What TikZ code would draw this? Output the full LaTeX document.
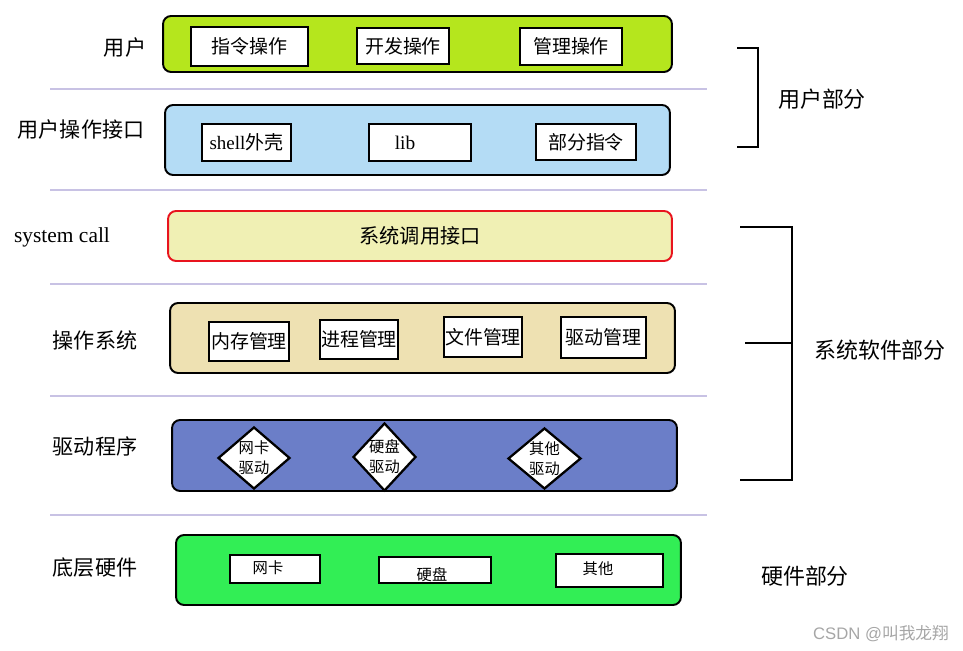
\documentclass[tikz,border=0pt]{standalone}
\usepackage{fontspec}
\setmainfont{Liberation Serif}
\newfontfamily\cjk{Noto Sans CJK SC}
\usetikzlibrary{shapes.geometric}
\definecolor{limegrn}{RGB}{181,230,29}
\definecolor{skyblu}{RGB}{180,220,245}
\definecolor{paleyel}{RGB}{240,240,180}
\definecolor{tanbox}{RGB}{238,225,178}
\definecolor{drvblu}{RGB}{107,126,200}
\definecolor{hwgrn}{RGB}{50,238,85}
\definecolor{sepline}{RGB}{200,194,228}
\definecolor{redline}{RGB}{232,20,30}

\begin{document}
\begin{tikzpicture}[x=0.02cm,y=-0.02cm,
  every node/.style={font=\cjk},
  layer/.style={draw,line width=1.1pt,rounded corners=0.16cm,inner sep=0},
  item/.style={draw,line width=1.1pt,fill=white,inner sep=0,font=\cjk\fontsize{10.8}{12}\selectfont},
  hwitem/.style={draw,line width=1.1pt,fill=white,inner sep=0},
  drv/.style={diamond,draw,line width=1.3pt,fill=white,inner sep=0},
  side/.style={font=\cjk\fontsize{12}{14}\selectfont},
  part/.style={font=\cjk\fontsize{12.5}{14}\selectfont},
  sep/.style={draw=sepline,line width=1.2pt},
  brk/.style={draw,line width=1.1pt}]
\useasboundingbox (0,0) rectangle (963,651);

\node[side] (user) at (125,48) {用户};
\node[side] (uif) at (81,130) {用户操作接口};
\node[side,font=\rmfamily\fontsize{12.2}{14}\selectfont] (sc) at (62,237) {system call};
\node[side] (os) at (95,340) {操作系统};
\node[side] (drvs) at (95,446) {驱动程序};
\node[side] (hw) at (95,568) {底层硬件};

\node[layer,fill=limegrn,minimum width=10.18cm,minimum height=1.12cm] (L1) at (417.5,44) {};
\node[item,minimum width=2.34cm,minimum height=0.78cm] (cmdop) at (249.5,46.5) {指令操作};
\node[item,minimum width=1.84cm,minimum height=0.72cm] (devop) at (403,46) {开发操作};
\node[item,minimum width=2.04cm,minimum height=0.74cm] (mgmtop) at (571,46.5) {管理操作};

\node[layer,fill=skyblu,minimum width=10.1cm,minimum height=1.4cm] (L2) at (417.5,140) {};
\node[item,minimum width=1.78cm,minimum height=0.74cm] (shell) at (246.5,142.5) {{\rmfamily shell}外壳};
\node[item,minimum width=2.04cm,minimum height=0.74cm,font=\rmfamily\fontsize{11}{12}\selectfont] (lib) at (420,142.5) {\hspace*{-0.6cm}lib};
\node[item,minimum width=2.0cm,minimum height=0.72cm] (partcmd) at (586,142) {部分指令};

\node[layer,fill=paleyel,draw=redline,minimum width=10.08cm,minimum height=1.0cm,font=\cjk\fontsize{11.5}{13}\selectfont] (L3) at (420,236) {系统调用接口};

\node[layer,fill=tanbox,minimum width=10.1cm,minimum height=1.4cm] (L4) at (422.5,338) {};
\node[item,minimum width=1.6cm,minimum height=0.78cm] (mem) at (249,341.5) {内存管理};
\node[item,minimum width=1.56cm,minimum height=0.78cm] (proc) at (359,339.5) {进程管理};
\node[item,minimum width=1.56cm,minimum height=0.8cm] (file) at (483,337) {文件管理};
\node[item,minimum width=1.7cm,minimum height=0.82cm] (dmgr) at (603.5,337.5) {驱动管理};

\node[layer,fill=drvblu,minimum width=10.1cm,minimum height=1.42cm] (L5) at (424.5,455.5) {};
\node[drv,minimum width=1.44cm,minimum height=1.24cm] (nicdrv) at (254,458) {};
\node[drv,minimum width=1.26cm,minimum height=1.36cm] (diskdrv) at (384.5,457) {};
\node[drv,minimum width=1.46cm,minimum height=1.22cm] (othdrv) at (544.5,458.5) {};
\node[align=center,font=\cjk\fontsize{8.7}{11.5}\selectfont] (nicdrvt) at (nicdrv) {网卡\\驱动};
\node[align=center,font=\cjk\fontsize{8.7}{11.5}\selectfont] (diskdrvt) at (diskdrv) {硬盘\\驱动};
\node[align=center,font=\cjk\fontsize{8.7}{11.5}\selectfont] (othdrvt) at (othdrv) {其他\\驱动};

\node[layer,fill=hwgrn,minimum width=10.1cm,minimum height=1.4cm] (L6) at (428.5,570) {};
\node[hwitem,minimum width=1.8cm,minimum height=0.56cm] (nic) at (275,569) {};
\node[hwitem,minimum width=2.24cm,minimum height=0.52cm] (disk) at (435,570) {};
\node[hwitem,minimum width=2.14cm,minimum height=0.66cm] (oth) at (609.5,570.5) {};
\node[font=\cjk\fontsize{8.7}{10}\selectfont] (nict) at (268,568) {网卡};
\node[font=\cjk\fontsize{8.7}{10}\selectfont] (diskt) at (432,575) {硬盘};
\node[font=\cjk\fontsize{8.7}{10}\selectfont] (otht) at (598,569) {其他};

\foreach \y in {89,190,284,396,515}
  \draw[sep] (50,\y) -- (707,\y);

\draw[brk] (737,48) -- (758,48) -- (758,147) -- (737,147);
\draw[brk] (740,227) -- (792,227) -- (792,480) -- (740,480);
\draw[brk] (745,343) -- (792,343);

\node[part] (userpart) at (822,99) {用户部分};
\node[part] (syspart) at (880,350) {系统软件部分};
\node[part] (hwpart) at (805,576) {硬件部分};
\node[font=\fontspec{Liberation Sans}\fontsize{9.5}{11}\selectfont,text=gray!70] (mark) at (881,634) {CSDN @{\cjk 叫我龙翔}};
\end{tikzpicture}
\end{document}
